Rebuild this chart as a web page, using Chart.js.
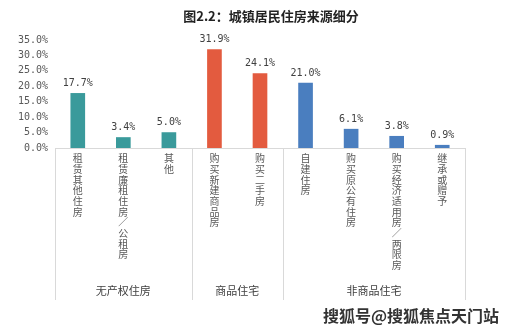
<!DOCTYPE html>
<html><head><meta charset="utf-8">
<script src="https://cdn.jsdelivr.net/npm/chart.js@4/dist/chart.umd.min.js"></script>
<style>html,body{margin:0;padding:0;background:#fff}#wrap{width:507px;height:336px;position:relative}</style>
</head><body><div id="wrap"><canvas id="c" width="507" height="336"></canvas></div>
<script>
const title = "图2.2：城镇居民住房来源细分";
const categories = ["租赁其他住房","租赁廉租住房/公租房","其他","购买新建商品房","购买二手房","自建住房","购买原公有住房","购买经济适用房/两限房","继承或赠予"];
const values = [17.7, 3.4, 5.0, 31.9, 24.1, 21.0, 6.1, 3.8, 0.9];
const groups = ["无产权住房","商品住宅","非商品住宅"];
const groupSizes = [3, 2, 4];
const yTicks = [0,5,10,15,20,25,30,35];
const watermark = "搜狐号@搜狐焦点天门站";
const groupColors = ["#3a9a9b","#e35b3f","#4a7ebf"];

const barColors = [];
groupSizes.forEach((n,i)=>{for(let k=0;k<n;k++)barColors.push(groupColors[i]);});
const FONT = "'Noto Sans CJK SC', 'DejaVu Sans', sans-serif";

const extras = {
  id:'extras',
  afterDraw(chart){
    const ctx = chart.ctx, x = chart.scales.x, ca = chart.chartArea;
    ctx.save();
    ctx.fillStyle = '#222';
    ctx.font = "bold 13px " + FONT;
    ctx.textAlign = 'center'; ctx.textBaseline = 'middle';
    ctx.fillText(title, 271, 16);
    ctx.font = "10px 'DejaVu Sans Mono', monospace";
    ctx.fillStyle = '#404040';
    ctx.textBaseline = 'bottom';
    const meta = chart.getDatasetMeta(0);
    meta.data.forEach((b,i)=>{
      ctx.fillText(values[i].toFixed(1)+'%', b.x, b.y - 5);
    });
    ctx.strokeStyle = '#d9d9d9'; ctx.lineWidth = 1;
    const bounds = [ca.left];
    let idx = 0;
    groupSizes.forEach(n=>{ idx += n;
      if (idx < categories.length) bounds.push((x.getPixelForValue(idx-1)+x.getPixelForValue(idx))/2);
      else bounds.push(ca.right);
    });
    bounds.forEach(bx=>{
      ctx.beginPath(); ctx.moveTo(Math.round(bx)+0.5, ca.bottom); ctx.lineTo(Math.round(bx)+0.5, 300); ctx.stroke();
    });
    ctx.font = "11px " + FONT;
    ctx.fillStyle = '#404040';
    ctx.textBaseline = 'middle';
    groups.forEach((g,i)=>{
      ctx.fillText(g, (bounds[i]+bounds[i+1])/2, 291);
    });
    ctx.font = "bold 16px " + FONT;
    ctx.textAlign = 'left';
    ctx.lineWidth = 3; ctx.strokeStyle = '#fff';
    ctx.strokeText(watermark, 323, 316);
    ctx.fillStyle = '#333';
    ctx.fillText(watermark, 323, 316);
    ctx.restore();
  }
};

new Chart(document.getElementById('c'), {
  type:'bar',
  data:{
    labels: categories.map(s=>Array.from(s.replace('/', '／'))),
    datasets:[{data: values, backgroundColor: barColors, barThickness: 14}]
  },
  options:{
    responsive:false, animation:false,
    layout:{padding:{top:40, right:42, left:0, bottom:0}},
    plugins:{legend:{display:false}, tooltip:{enabled:false}, title:{display:false}},
    scales:{
      x:{
        grid:{display:false, drawTicks:false},
        border:{display:true, color:'#d9d9d9'},
        ticks:{maxRotation:0, minRotation:0, autoSkip:false, padding:5, color:'#595959',
               font:{size:10, family:FONT, lineHeight:1.07}},
        afterFit(s){ s.height = 188; }
      },
      y:{
        min:0, max:35,
        afterBuildTicks(s){ s.ticks = yTicks.map(v=>({value:v})); },
        grid:{display:false, drawTicks:false},
        border:{display:false},
        ticks:{color:'#595959', padding:7, autoSkip:false, font:{size:10, family:"'DejaVu Sans Mono', monospace"},
               callback:v=>Number(v).toFixed(1)+'%'},
        afterFit(s){ s.width = 55; }
      }
    }
  },
  plugins:[extras]
});
</script></body></html>
